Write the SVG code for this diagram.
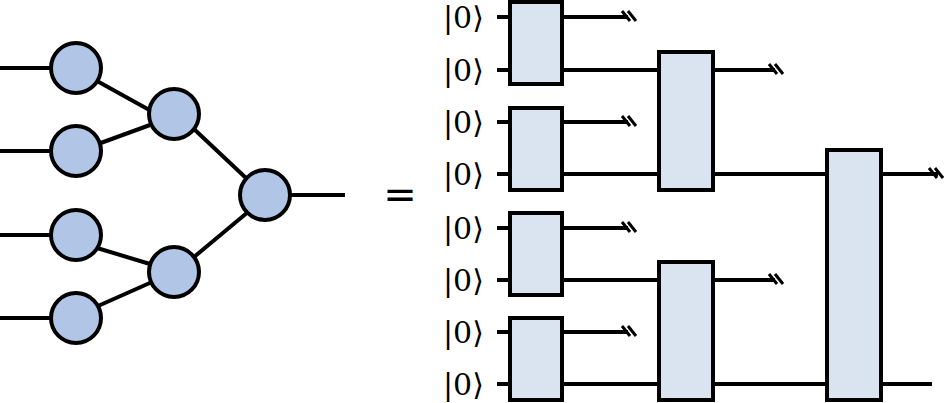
<svg xmlns="http://www.w3.org/2000/svg" width="944" height="403" viewBox="0 0 944 403">
<defs>
<style>
.c{fill:#b1c6e6;stroke:#000;stroke-width:4}
.b{fill:#dae3f0;stroke:#000;stroke-width:4}
.w{stroke:#000;stroke-width:4;fill:none}
.t{font-family:"DejaVu Serif","Liberation Serif",serif;font-size:30px}
</style>
<g id="cut"><path class="w" d="M-6,-6 L2,4 M0,-6 L8,4" style="stroke-width:3"/></g>
</defs>
<g id="connectors">
<path class="w" d="M0,68H51M0,151H51M0,235H51M0,318H51M290,195H345M97,81L153,112M98,144L150,125M97,248L150,264M98,306L152,282M195,130L246,178M194,257L248,212"/>
<path class="w" d="M497,17H510M497,70H510M497,122H510M497,174H510M497,228H510M497,280H510M497,332H510M497,384H510"/>
<path class="w" d="M562,17H628M562,70H659M562,122H628M562,174H659M562,228H628M562,280H659M562,332H628M562,384H659"/>
<path class="w" d="M713,70H775M713,174H827M713,280H775M713,384H827M881,174H938M881,384H932"/>
<use href="#cut" x="628" y="17"/><use href="#cut" x="628" y="122"/><use href="#cut" x="628" y="228"/><use href="#cut" x="628" y="332"/>
<use href="#cut" x="775" y="70"/><use href="#cut" x="775" y="280"/><use href="#cut" x="935" y="174"/>
</g>
<g id="n1"><circle class="c" cx="76" cy="68" r="25"/></g>
<g id="n2"><circle class="c" cx="76" cy="151" r="25"/></g>
<g id="n3"><circle class="c" cx="76" cy="235" r="25"/></g>
<g id="n4"><circle class="c" cx="76" cy="318" r="25"/></g>
<g id="n5"><circle class="c" cx="174" cy="114" r="25"/></g>
<g id="n6"><circle class="c" cx="174" cy="272" r="25"/></g>
<g id="n7"><circle class="c" cx="265" cy="195" r="25"/></g>
<g id="eq"><text x="400" y="208" class="t" text-anchor="middle" style="font-family:'DejaVu Sans',sans-serif;font-size:40px">=</text></g>
<g id="labels" class="t">
<text x="443" y="28">|0⟩</text><text x="443" y="81">|0⟩</text><text x="443" y="133">|0⟩</text><text x="443" y="185">|0⟩</text>
<text x="443" y="239">|0⟩</text><text x="443" y="291">|0⟩</text><text x="443" y="343">|0⟩</text><text x="443" y="395">|0⟩</text>
</g>
<g id="g1"><rect class="b" x="510" y="2" width="52" height="82"/></g>
<g id="g2"><rect class="b" x="510" y="108" width="52" height="82"/></g>
<g id="g3"><rect class="b" x="510" y="213" width="52" height="82"/></g>
<g id="g4"><rect class="b" x="510" y="318" width="52" height="82"/></g>
<g id="g5"><rect class="b" x="659" y="52" width="54" height="138"/></g>
<g id="g6"><rect class="b" x="659" y="262" width="54" height="138"/></g>
<g id="g7"><rect class="b" x="827" y="150" width="54" height="250"/></g>
</svg>
